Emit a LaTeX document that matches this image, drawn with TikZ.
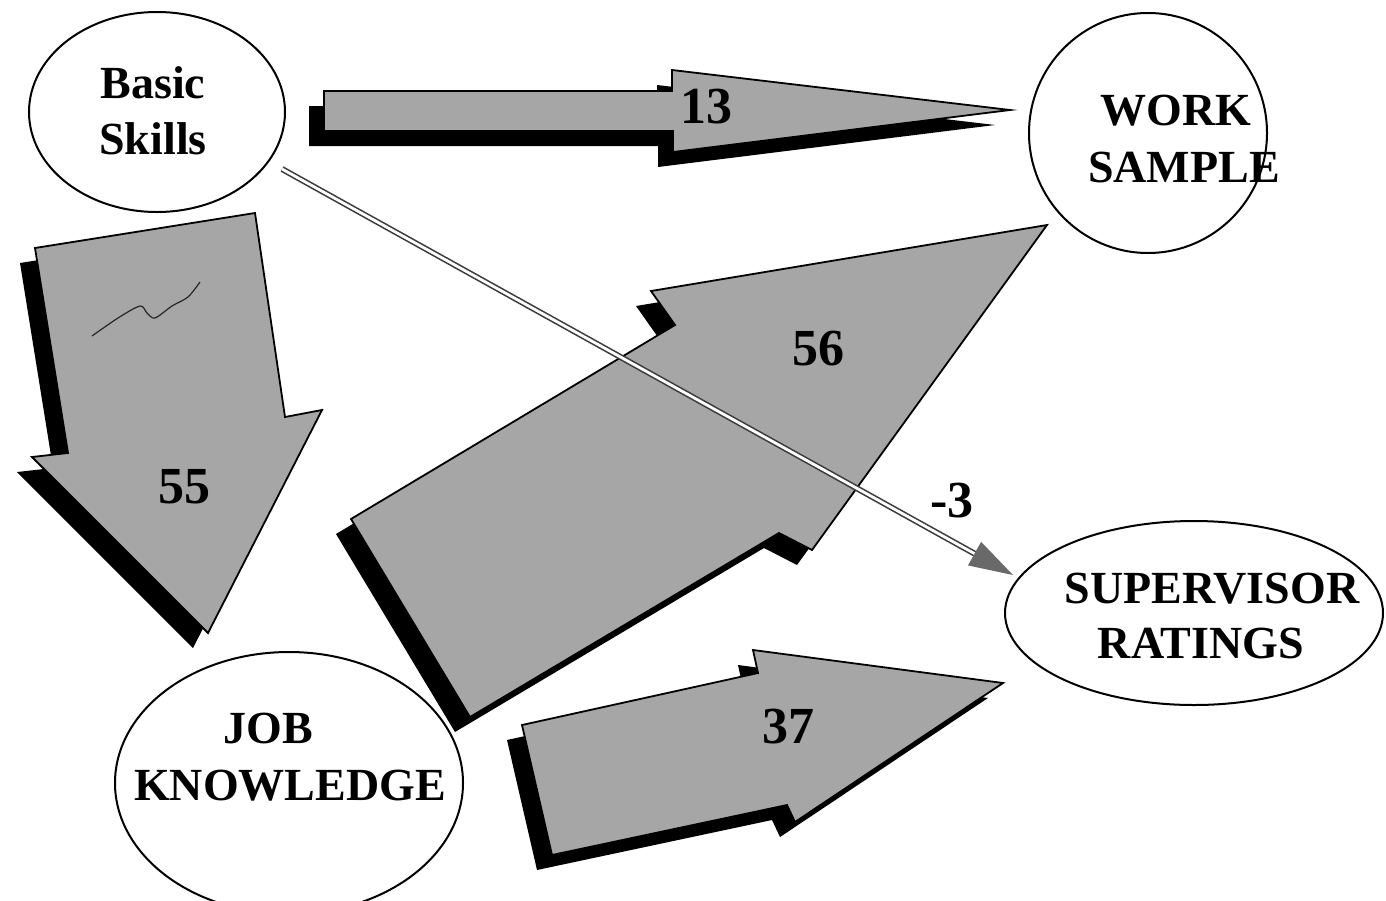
\documentclass[tikz,border=0pt]{standalone}
\usepackage{fontspec}
\setmainfont{Liberation Serif}
\usetikzlibrary{calc,shapes.geometric}
\definecolor{arrgray}{RGB}{166,166,166}
\definecolor{linegray}{RGB}{60,60,60}
\definecolor{headgray}{RGB}{105,105,105}
\begin{document}
\begin{tikzpicture}[x=1pt,y=-1pt,
  ell/.style={draw=black, line width=2pt, fill=white, shape=ellipse, inner sep=0pt},
  lbl/.style={font=\bfseries\fontsize{46}{56}\selectfont, anchor=base, inner sep=0pt},
  num/.style={font=\bfseries\fontsize{52}{60}\selectfont, anchor=base, inner sep=0pt},
  bigarrow/.style={fill=arrgray, draw=black, line width=1.8pt, line join=miter},
  arrshadow/.style={fill=black, draw=none},
  dbl/.style={draw=linegray, line width=1.6pt, double=white, double distance=2.8pt},
  scribble/.style={draw=black!85, line width=1.2pt}]
\useasboundingbox (0,0) rectangle (1386,900);
\fill[white] (0,0) rectangle (1386,900);
\clip (0,0) rectangle (1386,900);

% ellipses
\node[ell, minimum width=256pt, minimum height=200pt] (bs) at (157,112) {};
\node[ell, minimum width=238pt, minimum height=240pt] (ws) at (1148,133) {};
\node[ell, minimum width=378pt, minimum height=184pt] (sr) at (1194,613) {};
\node[ell, minimum width=348pt, minimum height=262pt] (jk) at (289,783) {};

% big arrows with drop shadows
\foreach \dx/\dy/\sty in {-15/15/arrshadow, 0/0/bigarrow}{
  % 13
  \path[\sty, shift={(\dx,\dy)}] (324,91) -- (672,91) -- (672,70) -- (1010,110)
     -- (673,152) -- (673,131) -- (324,131) -- cycle;
  % 55
  \path[\sty, shift={(\dx,\dy)}] (35,248) -- (255,213) -- (285,417) -- (322,410)
     -- (208,633) -- (32,457) -- (68,453) -- cycle;
  % 56
  \path[\sty, shift={(\dx,\dy)}] (351,519) -- (675,325) -- (651,291) -- (1047,225)
     -- (812,550) -- (779,533) -- (470,717) -- cycle;
  % 37
  \path[\sty, shift={(\dx,\dy)}] (522,725) -- (758,673) -- (753,650) -- (1003,683)
     -- (795,822) -- (787,805) -- (552,855) -- cycle;
}

% scribble mark inside the 55 arrow
\draw[scribble] plot[smooth] coordinates {(92,336) (118,318) (140,306) (147,313) (155,318) (172,306) (188,297) (200,282)};

% double-line connector Basic Skills -> Supervisor Ratings
\coordinate (dstart) at (282,169);
\coordinate (dtip) at (1013,575);
\coordinate (dbase) at ($(dtip)!44pt!(dstart)$);
\draw[dbl] (dstart) -- ($(dtip)!40pt!(dstart)$);
\fill[headgray] (dtip) -- ($(dbase)!13.5pt!90:(dtip)$) -- ($(dbase)!13.5pt!-90:(dtip)$) -- cycle;

% texts in ellipses
\node[lbl] (bs1) at (153,98) {Basic};
\node[lbl] (bs2) at (153,154) {Skills};
\node[lbl] (ws1) at (1176,125) {WORK};
\node[lbl] (ws2) at (1184,182) {SAMPLE};
\node[lbl] (sr1) at (1212,603) {SUPERVISOR};
\node[lbl] (sr2) at (1201,658) {RATINGS};
\node[lbl] (jk1) at (268,743) {JOB};
\node[lbl] (jk2) at (290,800) {KNOWLEDGE};

% path coefficients
\node[num] (n13) at (706,123) {13};
\node[num] (n55) at (184,503) {55};
\node[num] (n56) at (818,365) {56};
\node[num] (n37) at (788,743) {37};
\node[num] (n3) at (952,517) {-3};
\end{tikzpicture}
\end{document}
